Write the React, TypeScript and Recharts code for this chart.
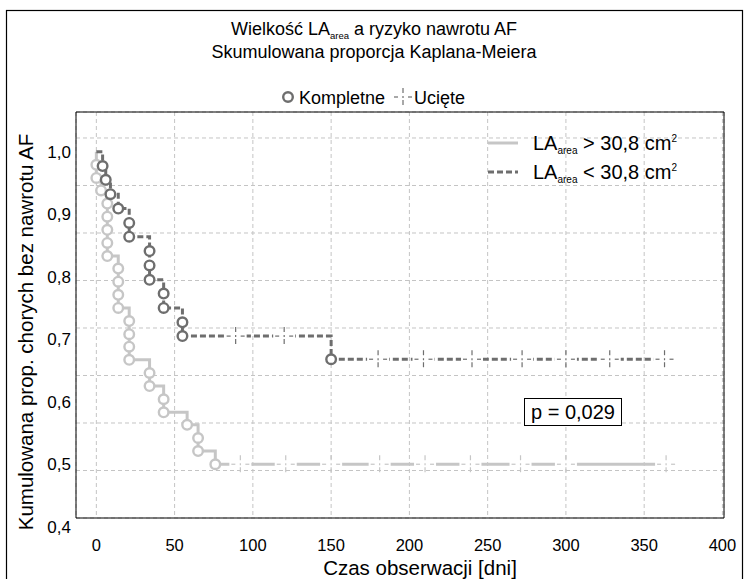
import React from 'react';
import { ComposedChart, Line, Scatter, XAxis, YAxis, CartesianGrid, ReferenceArea } from 'recharts';

const FONT = '"Liberation Sans", Arial, Helvetica, sans-serif';
const LIGHT = '#c6c6c6';
const DARK = '#6e6e6e';
const PLOT_LEFT = 76;

// axis ticks
const xTicks = [0, 50, 100, 150, 200, 250, 300, 350, 400];
const yTicks = [0.4, 0.5, 0.6, 0.7, 0.8, 0.9, 1.0];
const gridRows = [1, 2, 3, 4, 5, 6, 7, 8];
const xDomain = [-13, 401];
const yDomain = [0.414, 1.0635];
const gridDomain = [0, 8.547];

// LA_area > 30,8 cm2 (light, solid)
const lightTimes = [0, 0, 0, 3, 7, 7, 7, 7, 7, 14, 14, 14, 14, 21, 21, 21, 21, 34, 34, 43, 43, 58, 65, 65, 76, 367];
const lightSurv = [1.0, 0.979, 0.958, 0.938, 0.917, 0.896, 0.875, 0.854, 0.833, 0.813, 0.792, 0.771, 0.75, 0.729, 0.708, 0.688, 0.667, 0.646, 0.625, 0.604, 0.583, 0.563, 0.542, 0.521, 0.5, 0.5];
const lightCensor = [92, 121, 150, 181, 210, 239, 271, 300, 364];

// LA_area < 30,8 cm2 (dark, dashed)
const darkTimes = [0, 4, 6, 9, 14, 21, 21, 34, 34, 34, 43, 43, 55, 55, 150, 367];
const darkSurv = [1.0, 0.977, 0.955, 0.932, 0.909, 0.886, 0.864, 0.841, 0.818, 0.795, 0.773, 0.75, 0.727, 0.705, 0.668, 0.668];
const darkCensor = [89, 120, 180, 209, 240, 272, 300, 328, 363];

const buildLine = (times: number[], surv: number[]) =>
  times.map((t, i) => ({ t, s: surv[i], ev: i > 0 && surv[i] < surv[i - 1] }));

const survAt = (times: number[], surv: number[], t: number) => {
  let s = surv[0];
  for (let i = 0; i < times.length; i++) if (times[i] <= t) s = surv[i];
  return s;
};

const buildCensor = (cens: number[], times: number[], surv: number[]) =>
  cens.map((t) => ({ t, s: survAt(times, surv, t) }));

const lightData = buildLine(lightTimes, lightSurv);
const darkData = buildLine(darkTimes, darkSurv);
const lightCensorData = buildCensor(lightCensor, lightTimes, lightSurv);
const darkCensorData = buildCensor(darkCensor, darkTimes, darkSurv);

const makeDot = (color: string) => (props: any) => {
  const { cx, cy, payload, index } = props;
  if (!payload || !payload.ev) return <g key={`n${index}`} />;
  return <circle key={`d${index}`} cx={cx} cy={cy} r={4.8} fill="#fff" stroke={color} strokeWidth={2.4} />;
};

const CensorMark = ({ cx, cy, color, bg = true }: any) => (
  <g>
    {bg && <rect x={cx - 11} y={cy - 3} width={22} height={6} fill="#fff" />}
    <line x1={cx - 9} x2={cx - 5} y1={cy} y2={cy} stroke={color} strokeWidth={1.2} />
    <line x1={cx + 5} x2={cx + 9} y1={cy} y2={cy} stroke={color} strokeWidth={1.2} />
    <line x1={cx} x2={cx} y1={cy - 9} y2={cy - 4} stroke={color} strokeWidth={1.2} />
    <line x1={cx} x2={cx} y1={cy + 3} y2={cy + 8} stroke={color} strokeWidth={1.2} />
    <line x1={cx} x2={cx} y1={cy - 1} y2={cy + 1} stroke={color} strokeWidth={1.2} />
  </g>
);

const XTick = (props: any) => {
  const { x, y, payload } = props;
  return (
    <text x={x} y={y} textAnchor="middle" fontSize={16.5} fontFamily={FONT} fill="#000">
      {payload.value}
    </text>
  );
};

const YTick = (props: any) => {
  const { y, payload } = props;
  return (
    <text x={PLOT_LEFT - 5} y={y + 6} textAnchor="end" fontSize={17} fontFamily={FONT} fill="#000">
      {Number(payload.value).toFixed(1).replace('.', ',')}
    </text>
  );
};

export default function App() {
  return (
    <div style={{ position: 'absolute', left: 0, top: 0, width: 748, height: 579, overflow: 'hidden', background: '#fff' }}>
      <ComposedChart width={748} height={579} margin={{ top: 112, right: 24, bottom: 31, left: 16 }}>
        <CartesianGrid yAxisId="grid" stroke="#c4c4c4" strokeDasharray="4 3" strokeWidth={1} />
        <XAxis
          dataKey="t"
          type="number"
          domain={xDomain}
          ticks={xTicks}
          allowDataOverflow
          interval={0}
          height={30}
          tickSize={0}
          tickMargin={33}
          tickLine={false}
          axisLine={false}
          tick={<XTick />}
        />
        <YAxis
          yAxisId="v"
          dataKey="s"
          type="number"
          domain={yDomain}
          ticks={yTicks}
          allowDataOverflow
          interval={0}
          width={PLOT_LEFT - 16}
          tickSize={0}
          tickMargin={5}
          tickLine={false}
          axisLine={false}
          tick={<YTick />}
        />
        <YAxis yAxisId="grid" hide type="number" domain={gridDomain} ticks={gridRows} allowDataOverflow />
        <ReferenceArea
          yAxisId="v"
          x1={xDomain[0]}
          x2={xDomain[1]}
          y1={yDomain[0]}
          y2={yDomain[1]}
          fill="none"
          fillOpacity={0}
          stroke="#000"
          strokeWidth={1}
          ifOverflow="visible"
        />
        <Line
          yAxisId="v"
          data={lightData}
          dataKey="s"
          type="stepAfter"
          stroke={LIGHT}
          strokeWidth={3}
          dot={makeDot(LIGHT)}
          activeDot={false}
          isAnimationActive={false}
        />
        <Line
          yAxisId="v"
          data={darkData}
          dataKey="s"
          type="stepAfter"
          stroke={DARK}
          strokeWidth={3}
          strokeDasharray="6 3"
          dot={makeDot(DARK)}
          activeDot={false}
          isAnimationActive={false}
        />
        <Scatter
          yAxisId="v"
          data={lightCensorData}
          dataKey="s"
          isAnimationActive={false}
          shape={(p: any) => <CensorMark cx={p.cx} cy={p.cy} color={LIGHT} />}
        />
        <Scatter
          yAxisId="v"
          data={darkCensorData}
          dataKey="s"
          isAnimationActive={false}
          shape={(p: any) => <CensorMark cx={p.cx} cy={p.cy} color={DARK} />}
        />
      </ComposedChart>
      <svg width={748} height={579} style={{ position: 'absolute', left: 0, top: 0, pointerEvents: 'none' }} fontFamily={FONT}>
        <rect x={6.5} y={10.5} width={736} height={620} fill="none" stroke="#000" strokeWidth={1.2} />
        <text x={374} y={35} textAnchor="middle" fontSize={18} fill="#000">
          <tspan>Wielkość LA</tspan>
          <tspan fontSize={9.5} dy={4}>area</tspan>
          <tspan dy={-4}> a ryzyko nawrotu AF</tspan>
        </text>
        <text x={374} y={58} textAnchor="middle" fontSize={18} fill="#000">Skumulowana proporcja Kaplana-Meiera</text>
        <circle cx={288} cy={97} r={4.8} fill="#fff" stroke={DARK} strokeWidth={2.4} />
        <text x={299} y={103.5} fontSize={18} fill="#000">Kompletne</text>
        <CensorMark cx={403} cy={97} color={DARK} bg={false} />
        <text x={414} y={103.5} fontSize={18} fill="#000">Ucięte</text>

        <line x1={488} x2={518} y1={143} y2={143} stroke={LIGHT} strokeWidth={3} />
        <text x={533} y={150} fontSize={20} fill="#000">
          <tspan>LA</tspan>
          <tspan fontSize={10} dy={4}>area</tspan>
          <tspan dy={-4}> &gt; 30,8 cm</tspan>
          <tspan fontSize={10} dy={-8}>2</tspan>
        </text>
        <line x1={488} x2={518} y1={172} y2={172} stroke={DARK} strokeWidth={3} strokeDasharray="6 3" />
        <text x={533} y={179} fontSize={20} fill="#000">
          <tspan>LA</tspan>
          <tspan fontSize={10} dy={4}>area</tspan>
          <tspan dy={-4}> &lt; 30,8 cm</tspan>
          <tspan fontSize={10} dy={-8}>2</tspan>
        </text>

        <rect x={524.5} y={398.5} width={97} height={27} fill="#fff" stroke="#000" strokeWidth={1} />
        <text x={573} y={419} textAnchor="middle" fontSize={20} fill="#000">p = 0,029</text>

        <text transform="translate(32.5, 332) rotate(-90)" textAnchor="middle" fontSize={20.5} fill="#000">
          Kumulowana prop. chorych bez nawrotu AF
        </text>
        <text x={420} y={575} textAnchor="middle" fontSize={20.5} fill="#000">Czas obserwacji [dni]</text>
      </svg>
    </div>
  );
}
